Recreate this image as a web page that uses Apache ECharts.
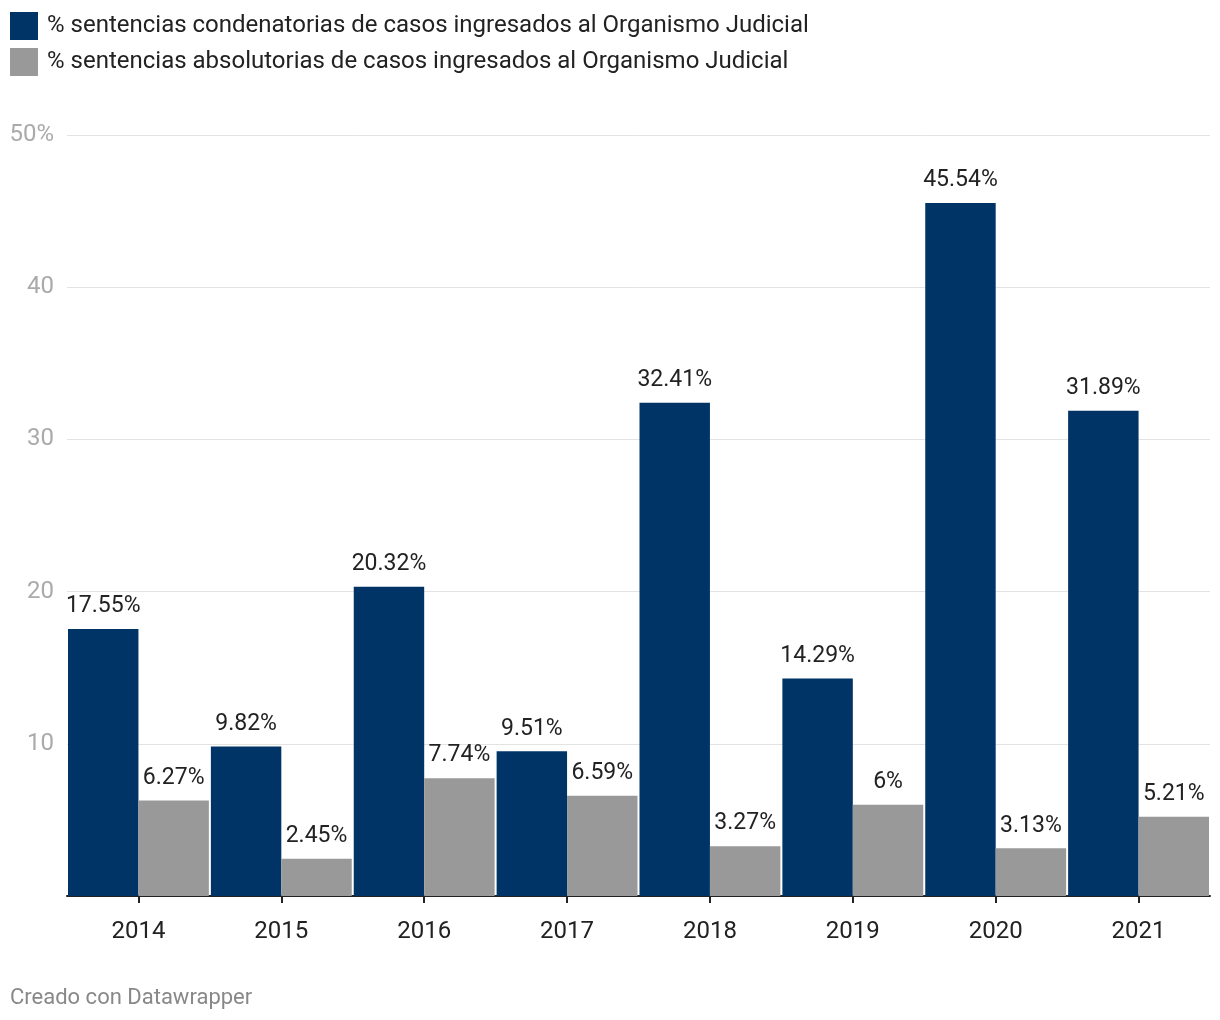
<!DOCTYPE html>
<html>
<head>
<meta charset="utf-8">
<script src="https://cdn.jsdelivr.net/npm/echarts@6/dist/echarts.min.js"></script>
<style>
html,body{margin:0;padding:0;background:#fff;}
#chart{width:1220px;height:1020px;}
</style>
</head>
<body>
<div id="chart"></div>
<script>
const years = ['2014','2015','2016','2017','2018','2019','2020','2021'];
const condenatorias = [17.55, 9.82, 20.32, 9.51, 32.41, 14.29, 45.54, 31.89];
const absolutorias = [6.27, 2.45, 7.74, 6.59, 3.27, 6, 3.13, 5.21];
const seriesNames = ['% sentencias condenatorias de casos ingresados al Organismo Judicial',
                     '% sentencias absolutorias de casos ingresados al Organismo Judicial'];
const yTicks = [0, 10, 20, 30, 40, 50];

const FONT = 'Roboto, "Noto Sans", sans-serif';
const chart = echarts.init(document.getElementById('chart'), null, {renderer: 'canvas'});
const labelCfg = {
  show: true, position: 'top', distance: 11,
  fontFamily: FONT, fontSize: 23, color: '#222',
  formatter: p => p.value + '%'
};
chart.setOption({
  animation: false,
  textStyle: {fontFamily: FONT},
  legend: {
    orient: 'vertical', left: 10, top: 12, itemGap: 8, padding: 0,
    itemWidth: 28, itemHeight: 28, icon: 'rect',
    textStyle: {fontSize: 24, color: '#222', fontFamily: FONT, padding: [3,0,0,4]},
    selectedMode: false,
    data: seriesNames
  },
  grid: {left: 67, right: 10, top: 135, bottom: 124, containLabel: false},
  xAxis: {
    type: 'category', data: years,
    axisLine: {lineStyle: {color: '#222', width: 2}},
    axisTick: {show: true, alignWithLabel: true, length: 7, lineStyle: {color: '#222', width: 2}},
    axisLabel: {fontSize: 24, color: '#222', margin: 24, fontFamily: FONT}
  },
  yAxis: {
    type: 'value', min: yTicks[0], max: yTicks[yTicks.length-1], interval: 10,
    axisLine: {show: false}, axisTick: {show: false},
    splitLine: {lineStyle: {color: '#e3e3e3', width: 1}},
    axisLabel: {
      fontSize: 24, color: '#aaaaaa', margin: 13, fontFamily: FONT, showMinLabel: false,
      padding: [3,0,0,0],
      formatter: v => v === 50 ? '50%' : String(v)
    }
  },
  series: [
    {name: seriesNames[0], type: 'bar', data: condenatorias, itemStyle: {color: '#003366'},
     barGap: '0%', barCategoryGap: '1.4%', label: labelCfg},
    {name: seriesNames[1], type: 'bar', data: absolutorias, itemStyle: {color: '#999999'},
     barGap: '0%', barCategoryGap: '1.4%', label: labelCfg}
  ],
  graphic: [{
    type: 'text', left: 10, top: 987,
    style: {text: 'Creado con Datawrapper', fontSize: 22, fill: '#888', fontFamily: FONT}
  }]
});
</script>
</body>
</html>
